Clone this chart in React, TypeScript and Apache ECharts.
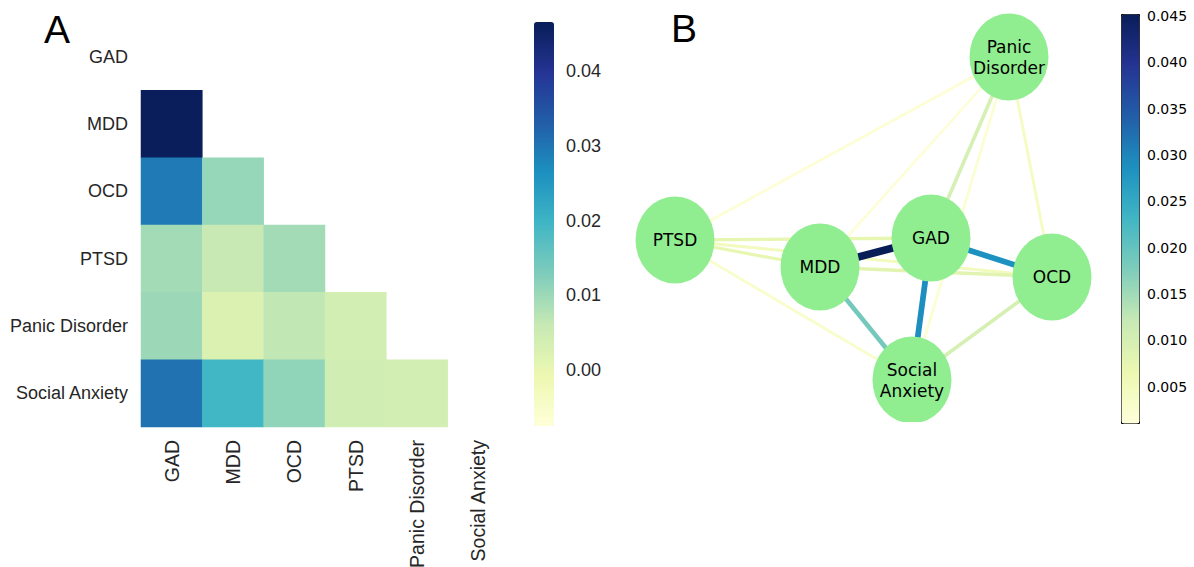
import React, { useEffect, useRef } from "react";
import * as echarts from "echarts";

// ---------- Panel A: lower-triangle correlation heatmap ----------
const categories = ["GAD", "MDD", "OCD", "PTSD", "Panic Disorder", "Social Anxiety"];
const rowMDD = [0.0462];
const rowOCD = [0.0293, 0.0106];
const rowPTSD = [0.0093, 0.0058, 0.0093];
const rowPanic = [0.0101, 0.0025, 0.0066, 0.0039];
const rowSocial = [0.0304, 0.0196, 0.0112, 0.0044, 0.0039];
const heatRows = [[], rowMDD, rowOCD, rowPTSD, rowPanic, rowSocial];
const heatMin = -0.0075;
const heatMax = 0.0466;
const heatTicks = [0.0, 0.01, 0.02, 0.03, 0.04];

// ---------- Panel B: network ----------
const nodeNames = ["GAD", "MDD", "OCD", "PTSD", "Panic Disorder", "Social Anxiety"];
const nodeLabels = ["GAD", "MDD", "OCD", "PTSD", "Panic\nDisorder", "Social\nAnxiety"];
const nodeX = [0.355, -0.2, 0.96, -0.925, 0.745, 0.26];
const nodeY = [-0.09, -0.235, -0.285, -0.1, 0.815, -0.8];

const edgeSource = ["MDD", "PTSD", "Panic Disorder", "PTSD", "Panic Disorder", "PTSD", "PTSD", "PTSD", "MDD", "GAD", "OCD", "MDD", "GAD", "GAD", "MDD"];
const edgeTarget = ["Panic Disorder", "Panic Disorder", "Social Anxiety", "Social Anxiety", "OCD", "OCD", "MDD", "GAD", "OCD", "Panic Disorder", "Social Anxiety", "Social Anxiety", "OCD", "Social Anxiety", "GAD"];
const edgeWeight = [0.0015, 0.0018, 0.0022, 0.003, 0.004, 0.005, 0.0075, 0.0075, 0.008, 0.010, 0.010, 0.0185, 0.0287, 0.029, 0.0452];
const netMin = 0.0011;
const netMax = 0.0452;
const netTicks = [0.005, 0.01, 0.015, 0.02, 0.025, 0.03, 0.035, 0.04, 0.045];

const YlGnBu = ["#ffffd9", "#edf8b1", "#c7e9b4", "#7fcdbb", "#41b6c4", "#1d91c0", "#225ea8", "#253494", "#081d58"];

const ellipse = "path://M0,50 A50,50 0 1,1 100,50 A50,50 0 1,1 0,50 Z";

export default function App() {
  const ref = useRef<HTMLDivElement>(null);
  useEffect(() => {
    if (!ref.current) return;
    const chart = echarts.init(ref.current, undefined, { renderer: "svg" });

    const heatData: any[] = [];
    heatRows.forEach((row, r) => {
      row.forEach((v, c) => heatData.push([c, r, v]));
    });

    const nodes = nodeNames.map((n, i) => ({
      name: n,
      value: [nodeX[i], nodeY[i]],
      label: { formatter: nodeLabels[i] },
    }));
    const links = edgeSource.map((s, i) => {
      const t = (edgeWeight[i] - netMin) / (netMax - netMin);
      return {
        source: s,
        target: edgeTarget[i],
        lineStyle: {
          color: echarts.color.lerp(Math.max(0, Math.min(1, t)), YlGnBu),
          width: 2.4 + edgeWeight[i] * 115,
          opacity: 1,
          curveness: 0,
        },
      };
    });

    const labelFont = "'Liberation Sans', Arial, sans-serif";
    const textColor = "#262626";

    chart.setOption({
      animation: false,
      backgroundColor: "#ffffff",
      grid: [
        { left: 141, top: 23, width: 368, height: 404, outerBoundsMode: "none", containLabel: false },
        { left: 534, top: 22, width: 20, height: 404, outerBoundsMode: "none", containLabel: false },
        { left: 1121, top: 14, width: 18, height: 409, outerBoundsMode: "none", containLabel: false },
        { left: 620, top: 10, width: 480, height: 420, outerBoundsMode: "none", containLabel: false },
      ],
      xAxis: [
        {
          gridIndex: 0,
          type: "category",
          data: categories,
          axisLine: { show: false },
          axisTick: { show: false },
          splitLine: { show: false },
          axisLabel: { rotate: 90, fontSize: 19.5, color: textColor, fontFamily: labelFont, margin: 13, interval: 0 },
        },
        { gridIndex: 1, type: "value", show: false, min: 0, max: 1 },
        { gridIndex: 2, type: "value", show: false, min: 0, max: 1 },
        { gridIndex: 3, type: "value", show: false, min: -1.2, max: 1.2 },
      ],
      yAxis: [
        {
          gridIndex: 0,
          type: "category",
          data: categories,
          inverse: true,
          axisLine: { show: false },
          axisTick: { show: false },
          splitLine: { show: false },
          axisLabel: { fontSize: 18, color: textColor, fontFamily: labelFont, margin: 13, interval: 0 },
        },
        {
          gridIndex: 1,
          type: "value",
          position: "right",
          min: heatMin,
          max: heatMax,
          axisLine: { show: false },
          splitLine: { show: false },
          axisTick: { show: true, length: 6, inside: false, lineStyle: { color: textColor, width: 1.2 }, customValues: heatTicks },
          axisLabel: {
            customValues: heatTicks,
            fontSize: 18,
            color: textColor,
            fontFamily: labelFont,
            margin: 12,
            formatter: (v: number) => v.toFixed(2),
          },
        },
        {
          gridIndex: 2,
          type: "value",
          position: "right",
          min: netMin,
          max: netMax,
          axisLine: { show: false },
          splitLine: { show: false },
          axisTick: { show: true, length: 4, inside: false, lineStyle: { color: "#000", width: 1 }, customValues: netTicks },
          axisLabel: {
            customValues: netTicks,
            fontSize: 14,
            color: "#000",
            fontFamily: "'DejaVu Sans', sans-serif",
            margin: 8,
            formatter: (v: number) => v.toFixed(3),
          },
        },
        { gridIndex: 3, type: "value", show: false, min: -1.05, max: 1.05 },
      ],
      visualMap: [
        {
          type: "continuous",
          seriesIndex: 0,
          min: heatMin,
          max: heatMax,
          inRange: { color: YlGnBu },
          left: 534,
          top: 22,
          itemWidth: 20,
          itemHeight: 404,
          padding: 0,
          calculable: false,
          hoverLink: false,
          text: null,
        },
        {
          type: "continuous",
          seriesIndex: 1,
          min: netMin,
          max: netMax,
          inRange: { color: YlGnBu },
          left: 1121,
          top: 14,
          itemWidth: 18,
          itemHeight: 409,
          padding: 0,
          borderColor: "#000",
          borderWidth: 1,
          calculable: false,
          hoverLink: false,
          text: null,
        },
      ],
      graphic: [
        { type: "text", left: 44, top: 10, style: { text: "A", fontSize: 39, fontFamily: labelFont, fill: "#000" } },
        { type: "text", left: 671, top: 9, style: { text: "B", fontSize: 39, fontFamily: labelFont, fill: "#000" } },
        { type: "rect", z: 100, shape: { x: 940, y: 0, width: 140, height: 13 }, style: { fill: "#fff" } },
        { type: "rect", z: 100, shape: { x: 840, y: 422, width: 140, height: 30 }, style: { fill: "#fff" } },
      ],
      series: [
        {
          type: "heatmap",
          xAxisIndex: 0,
          yAxisIndex: 0,
          data: heatData,
          itemStyle: { borderWidth: 0 },
          emphasis: { disabled: true },
        },
        {
          type: "scatter",
          xAxisIndex: 2,
          yAxisIndex: 2,
          data: [],
        },
        {
          type: "graph",
          coordinateSystem: "cartesian2d",
          xAxisIndex: 3,
          yAxisIndex: 3,
          symbol: ellipse,
          symbolSize: [79, 87],
          itemStyle: { color: "#90ee90" },
          label: {
            show: true,
            position: "inside",
            color: "#000",
            fontSize: 17,
            lineHeight: 21,
            fontFamily: "'DejaVu Sans', sans-serif",
          },
          edgeSymbol: ["none", "none"],
          data: nodes,
          links: links,
          emphasis: { disabled: true },
        },
      ],
    });
    return () => chart.dispose();
  }, []);
  return (
    <div
      ref={ref}
      style={{ position: "fixed", left: 0, top: 0, width: 1194, height: 567 }}
    />
  );
}
